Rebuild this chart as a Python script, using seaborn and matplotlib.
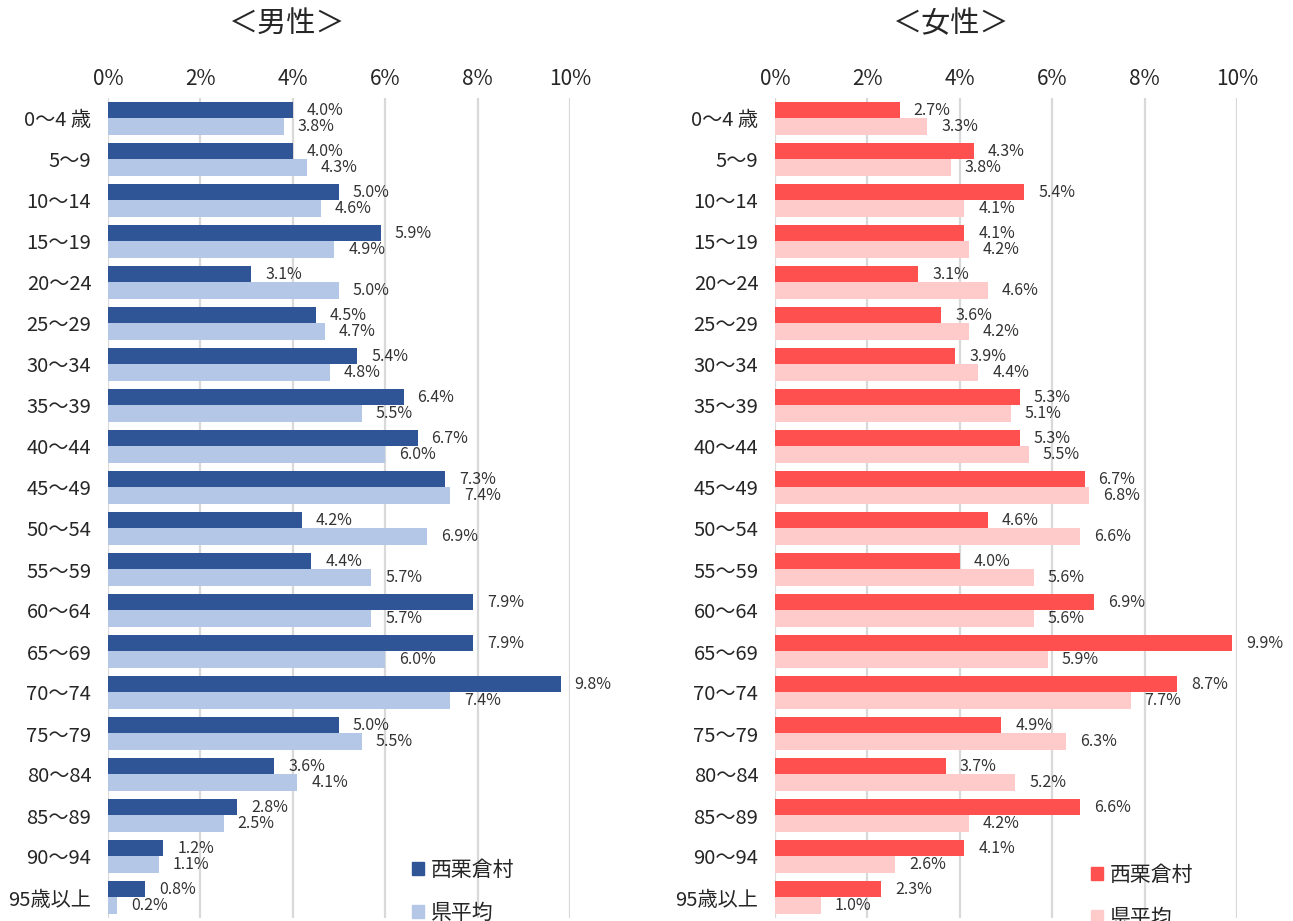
import matplotlib
matplotlib.use("Agg")
import matplotlib.pyplot as plt
import seaborn as sns
import pandas as pd
from matplotlib.patches import Patch

sns.set_theme(style="white")
plt.rcParams['font.family'] = ['Noto Sans CJK JP', 'DejaVu Sans']

ages = ["0～4 歳", "5～9", "10～14", "15～19", "20～24", "25～29", "30～34", "35～39",
        "40～44", "45～49", "50～54", "55～59", "60～64", "65～69", "70～74", "75～79",
        "80～84", "85～89", "90～94", "95歳以上"]
series_names = ["西栗倉村", "県平均"]
male_village = [4.0, 4.0, 5.0, 5.9, 3.1, 4.5, 5.4, 6.4, 6.7, 7.3, 4.2, 4.4, 7.9, 7.9, 9.8, 5.0, 3.6, 2.8, 1.2, 0.8]
male_pref = [3.8, 4.3, 4.6, 4.9, 5.0, 4.7, 4.8, 5.5, 6.0, 7.4, 6.9, 5.7, 5.7, 6.0, 7.4, 5.5, 4.1, 2.5, 1.1, 0.2]
female_village = [2.7, 4.3, 5.4, 4.1, 3.1, 3.6, 3.9, 5.3, 5.3, 6.7, 4.6, 4.0, 6.9, 9.9, 8.7, 4.9, 3.7, 6.6, 4.1, 2.3]
female_pref = [3.3, 3.8, 4.1, 4.2, 4.6, 4.2, 4.4, 5.1, 5.5, 6.8, 6.6, 5.6, 5.6, 5.9, 7.7, 6.3, 5.2, 4.2, 2.6, 1.0]
xticks = [0, 2, 4, 6, 8, 10]

W, H = 1293, 921
fig = plt.figure(figsize=(W / 100, H / 100), dpi=100)

def frac_box(x0, x1, y0, y1):
    return [x0 / W, 1 - y1 / H, (x1 - x0) / W, (y1 - y0) / H]

panels = [
    ("＜男性＞", male_village, male_pref, ["#2F5597", "#B4C7E7"], (108, 570), 287, (0.617, -0.03)),
    ("＜女性＞", female_village, female_pref, ["#FF5050", "#FFCACA"], (775, 1237), 951, (0.643, -0.036)),
]

for title, v, p, colors, (x0, x1), tx, lpos in panels:
    ax = fig.add_axes(frac_box(x0, x1, 98, 918))
    df = pd.DataFrame({
        "age": ages * 2,
        "value": v + p,
        "series": [series_names[0]] * len(ages) + [series_names[1]] * len(ages),
    })
    sns.barplot(data=df, y="age", x="value", hue="series", orient="h",
                palette=colors, width=0.8, ax=ax, saturation=1, legend=False,
                linewidth=0, edgecolor="none")
    ax.set_xlim(0, 10)
    ax.set_ylim(len(ages) - 0.5, -0.5)
    ax.set_xticks(xticks)
    ax.set_xticklabels([f"{t}%" for t in xticks], fontsize=15)
    ax.xaxis.tick_top()
    ax.tick_params(axis="x", length=0, pad=6)
    ax.tick_params(axis="y", length=0, pad=12, labelsize=14.5)
    ax.set_xlabel("")
    ax.set_ylabel("")
    for s in ax.spines.values():
        s.set_visible(False)
    ax.grid(axis="x", color="#D9D9D9", linewidth=1.6)
    ax.set_axisbelow(True)
    for cont in ax.containers:
        ax.bar_label(cont, labels=[f"{b.get_width():.1f}%" for b in cont],
                     padding=10, fontsize=11.5, color="#333333", clip_on=False)
    handles = [Patch(color=c) for c in colors]
    ax.legend(handles, series_names, loc="lower left", bbox_to_anchor=lpos,
              frameon=False, fontsize=15, handlelength=0.6, handleheight=0.6,
              handletextpad=0.3, labelspacing=1.0)
    fig.text(tx / W, 1 - 24 / H, title, ha="center", va="center", fontsize=21)

fig.savefig("out.png", dpi=100)
